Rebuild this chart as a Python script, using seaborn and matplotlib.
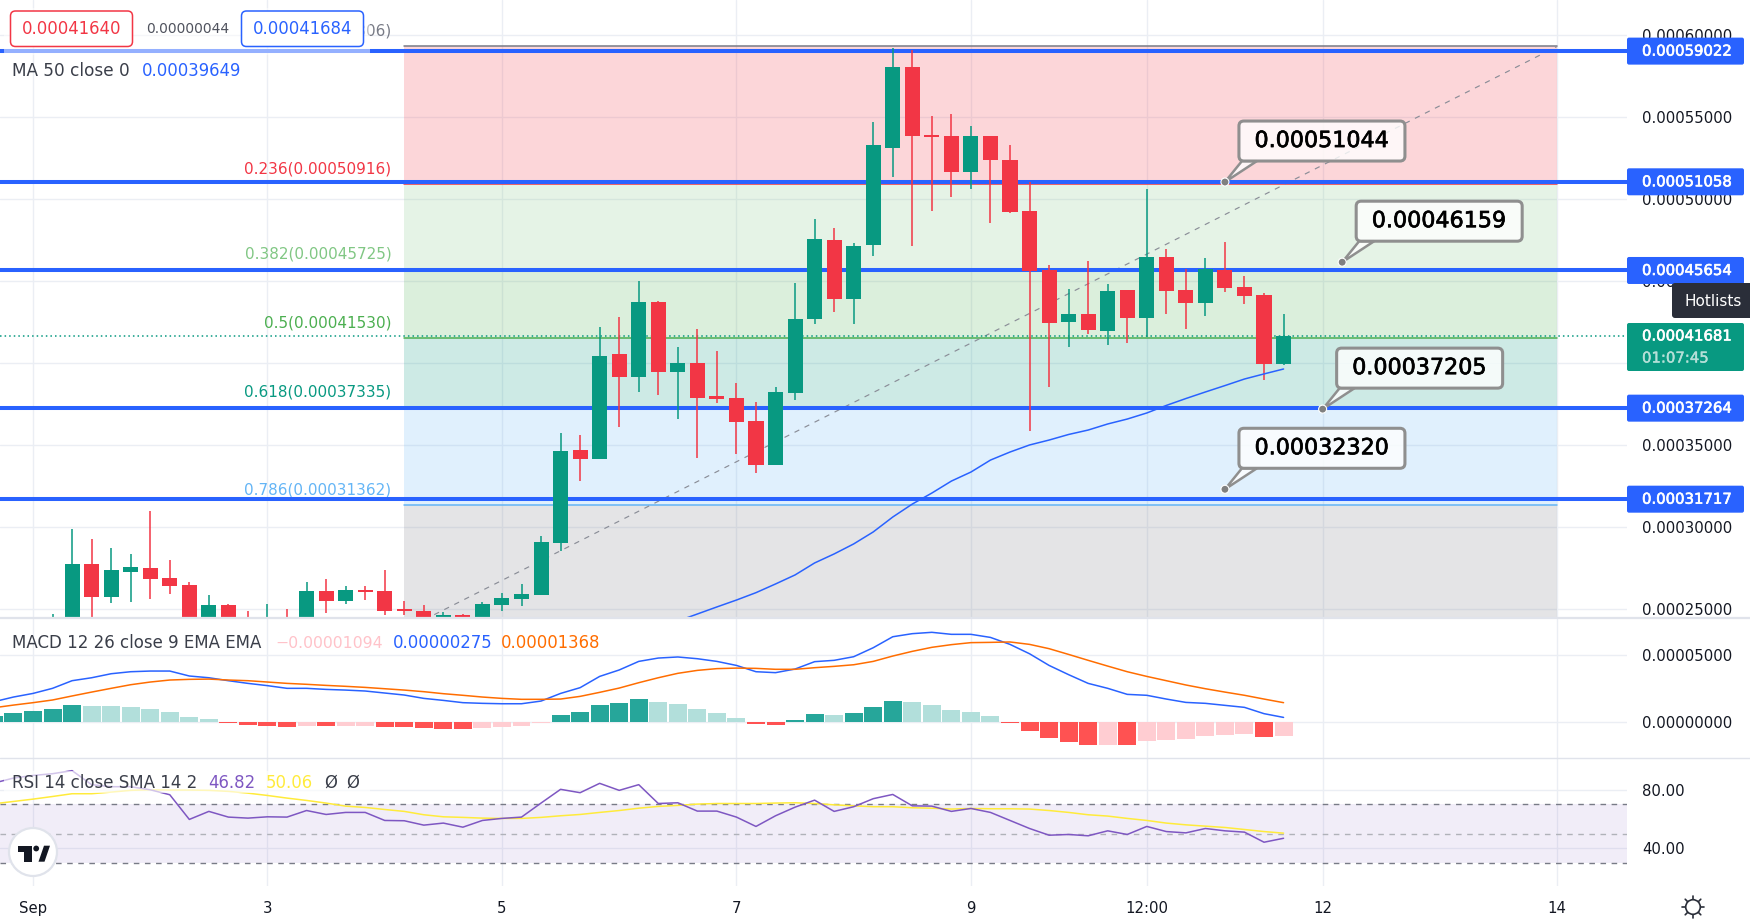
import numpy as np
import matplotlib
matplotlib.use('Agg')
import matplotlib.pyplot as plt
import matplotlib.transforms as mtrans
import matplotlib.patheffects as pe
from matplotlib.patches import FancyBboxPatch, Polygon, Circle, Rectangle
from matplotlib.lines import Line2D
import seaborn as sns

# candles, one every 4h, prices in units of 1e-5
candle_open = [23.5, 24.0, 27.77, 25.77, 27.28, 27.52, 26.91, 26.49, 23.6, 25.27, 24.3, 24.0, 24.5, 24.0, 26.12, 25.51,
               26.18, 26.12, 25.02, 24.90, 24.3, 24.66, 24.4, 25.27, 25.63, 25.88, 29.05, 34.71, 34.17, 40.56, 39.16,
               43.73, 39.47, 40.01, 38.0, 37.88, 36.48, 33.80, 38.19, 42.70, 47.51, 43.92, 47.21, 53.12, 58.05, 53.85,
               53.85, 51.66, 53.85, 52.39, 49.28, 45.68, 42.51, 43.00, 41.97, 44.46, 42.76, 46.48, 44.46, 43.67, 45.68,
               44.65, 44.16, 39.96]
candle_high = [24.72, 29.90, 29.29, 28.74, 28.38, 31.00, 28.01, 26.67, 25.88, 25.33, 24.90, 25.33, 25.02, 26.67, 26.85,
               26.43, 26.43, 27.40, 25.51, 25.27, 24.84, 24.72, 25.45, 26.00, 26.55, 29.47, 35.75, 35.63, 42.21, 42.82,
               45.01, 43.79, 40.99, 42.09, 40.75, 38.80, 37.64, 38.55, 44.89, 48.79, 48.24, 47.33, 54.70, 59.21, 59.09,
               55.07, 55.19, 54.46, 53.85, 53.30, 51.05, 45.99, 44.53, 46.23, 44.83, 44.46, 50.62, 46.96, 45.74, 46.41,
               47.39, 45.32, 44.28, 43.00]
candle_low = [23.3, 23.6, 24.3, 25.41, 25.45, 25.63, 25.94, 23.8, 23.4, 23.6, 23.6, 23.8, 23.8, 23.8, 24.78, 25.33,
              25.57, 24.66, 24.66, 24.1, 24.1, 24.1, 24.2, 24.90, 25.21, 25.88, 28.56, 32.82, 34.17, 36.12, 38.25,
              38.07, 36.60, 34.23, 37.58, 34.47, 33.31, 33.80, 37.76, 42.39, 43.12, 42.39, 46.54, 51.35, 47.15, 49.28,
              50.13, 50.62, 48.55, 49.16, 35.87, 38.55, 40.99, 41.78, 41.11, 41.23, 41.60, 43.00, 42.09, 42.88, 44.34,
              43.61, 38.98, 39.89]
candle_close = [24.2, 27.77, 25.77, 27.40, 27.58, 26.85, 26.43, 24.0, 25.27, 23.8, 23.9, 24.4, 24.0, 26.12, 25.51, 26.18,
                26.06, 24.90, 24.90, 24.3, 24.66, 24.3, 25.33, 25.69, 25.94, 29.11, 34.65, 34.17, 40.44, 39.16, 43.73,
                39.47, 40.01, 37.88, 37.82, 36.42, 33.80, 38.25, 42.70, 47.57, 43.92, 47.15, 53.30, 58.05, 53.85, 53.79,
                51.66, 53.85, 52.39, 49.22, 45.62, 42.45, 43.00, 42.03, 44.40, 42.76, 46.48, 44.40, 43.67, 45.74, 44.59,
                44.10, 39.96, 41.68]

ma50 = [24.29, 24.72, 25.15, 25.57, 26.02, 26.55, 27.10, 27.83, 28.38, 28.99, 29.72, 30.63, 31.42, 32.09, 32.82, 33.37,
        34.10, 34.59, 35.02, 35.32, 35.66, 35.93, 36.30, 36.60, 36.97, 37.43, 37.85, 38.25, 38.64, 39.04, 39.35, 39.65]

# MACD pane, starts two candles before the first day
macd_hist = [0.40, 0.62, 0.77, 0.92, 1.22, 1.14, 1.14, 1.07, 0.92, 0.70, 0.32, 0.17, -0.12, -0.27, -0.35, -0.42, -0.35,
             -0.35, -0.35, -0.35, -0.42, -0.42, -0.50, -0.57, -0.57, -0.50, -0.42, -0.35, -0.12, 0.47, 0.70, 1.22, 1.37,
             1.67, 1.44, 1.29, 0.92, 0.62, 0.25, -0.20, -0.27, 0.10, 0.55, 0.47, 0.62, 1.07, 1.52, 1.44, 1.22, 0.85,
             0.70, 0.40, -0.12, -0.72, -1.24, -1.54, -1.77, -1.77, -1.77, -1.47, -1.39, -1.32, -1.09, -1.02, -0.95,
             -1.17, -1.09]
hist_kind = list("ggggglllllllrrrrprpprrrrrppppggggglllllrrgglggglllllrrrrrprppppppr" + "p")
macd_line = [1.49, 1.84, 2.11, 2.49, 3.06, 3.28, 3.58, 3.73, 3.78, 3.78, 3.41, 3.28, 3.06, 2.86, 2.69, 2.49, 2.49, 2.41,
             2.36, 2.29, 2.14, 1.99, 1.74, 1.59, 1.42, 1.37, 1.34, 1.34, 1.54, 2.11, 2.54, 3.38, 3.86, 4.50, 4.75, 4.83,
             4.70, 4.50, 4.20, 3.73, 3.66, 3.93, 4.48, 4.58, 4.85, 5.52, 6.34, 6.57, 6.67, 6.52, 6.52, 6.29, 5.77, 5.07,
             4.20, 3.51, 2.86, 2.49, 2.04, 1.97, 1.69, 1.44, 1.37, 1.22, 1.07, 0.60, 0.32]
signal_line = [1.04, 1.24, 1.42, 1.62, 1.92, 2.21, 2.49, 2.76, 2.96, 3.11, 3.16, 3.18, 3.11, 3.06, 2.96, 2.86, 2.79, 2.71,
               2.64, 2.56, 2.46, 2.36, 2.24, 2.09, 1.97, 1.84, 1.74, 1.67, 1.67, 1.69, 1.89, 2.19, 2.51, 2.91, 3.28, 3.61,
               3.83, 3.96, 4.00, 3.98, 3.91, 3.91, 4.03, 4.13, 4.25, 4.50, 4.90, 5.25, 5.55, 5.75, 5.90, 5.92, 5.95, 5.77,
               5.45, 5.02, 4.58, 4.15, 3.73, 3.38, 3.06, 2.74, 2.46, 2.21, 1.97, 1.69, 1.42]

rsi_line = [84.6, 88.0, 89.8, 91.0, 93.1, 83.5, 82.1, 82.1, 80.0, 76.6, 59.7, 65.2, 61.3, 60.6, 61.5, 61.3, 65.8, 63.1,
            64.5, 64.5, 59.0, 58.8, 55.8, 57.2, 54.4, 59.0, 60.4, 61.3, 70.9, 80.3, 78.0, 84.4, 79.6, 83.5, 70.6, 71.1,
            65.4, 65.4, 61.3, 54.9, 62.2, 68.1, 72.9, 65.2, 68.4, 73.9, 76.8, 69.0, 68.8, 65.2, 67.2, 64.5, 59.0, 53.5,
            48.9, 49.4, 48.5, 51.9, 49.4, 54.9, 51.4, 50.5, 53.5, 51.9, 51.0, 44.1, 46.8]
rsi_ma = [70.4, 72.0, 73.6, 75.4, 77.3, 77.3, 78.4, 79.6, 80.0, 79.8, 79.8, 79.6, 78.9, 77.7, 76.1, 74.3, 72.7, 70.9,
          68.8, 67.9, 66.5, 65.2, 62.9, 61.5, 61.1, 60.6, 60.4, 60.4, 61.1, 62.2, 63.1, 64.5, 65.8, 67.4, 68.6, 69.3,
          70.2, 70.6, 70.6, 70.6, 70.9, 71.1, 70.6, 69.7, 69.0, 68.4, 68.4, 67.7, 67.4, 66.8, 67.2, 67.0, 67.0, 66.8,
          65.8, 64.5, 62.9, 62.0, 60.4, 59.0, 57.2, 56.0, 55.1, 54.2, 52.8, 51.4, 50.3]

fib_ratio = ['0', '0.236', '0.382', '0.5', '0.618', '0.786', '1']
fib_price = [59.306, 50.916, 45.725, 41.530, 37.335, 31.362, 23.754]
fib_color = ['#787B86', '#F23645', '#81C784', '#4CAF50', '#089981', '#64B5F6', '#787B86']
fib_text = ['0.00059306', '0.00050916', '0.00045725', '0.00041530', '0.00037335', '0.00031362', '0.00023754']
hline_price = [59.022, 51.058, 45.654, 37.264, 31.717]
hline_text = ['0.00059022', '0.00051058', '0.00045654', '0.00037264', '0.00031717']
callout_k = [61, 67, 66, 61]
callout_price = [51.044, 46.159, 37.205, 32.320]
callout_text = ['0.00051044', '0.00046159', '0.00037205', '0.00032320']
price_ticks = [25, 30, 35, 40, 45, 50, 55, 60]
price_tick_text = ['0.00025000', '0.00030000', '0.00035000', '0.00040000', '0.00045000', '0.00050000', '0.00055000', '0.00060000']
time_ticks = [0, 12, 24, 36, 48, 57, 66, 78]
time_tick_text = ['Sep', '3', '5', '7', '9', '12:00', '12', '14']

BLUE = '#2962FF'
GREEN = '#089981'
RED = '#F23645'
GRID = '#EBEEF4'
TEXT = '#131722'
W, H = 1750, 924

sns.set_theme(style='white')
plt.rcParams['font.family'] = ['DejaVu Sans']
plt.rcParams['axes.linewidth'] = 0


def P(x, y):
    # pixel measured from the top left of the picture
    return (x, H - y)


PX = mtrans.IdentityTransform()
fig = plt.figure(figsize=(W / 100, H / 100), dpi=100, facecolor='white')


def pane(top, bottom):
    ax = fig.add_axes([0, 1 - bottom / H, 1627 / W, (bottom - top) / H])
    ax.set_xlim(-33 / 19.54, (1627 - 33) / 19.54)
    ax.set_xticks(time_ticks)
    ax.set_xticklabels([])
    ax.yaxis.tick_right()
    ax.tick_params(axis='both', length=0, labelsize=10.7, pad=10.8, colors=TEXT)
    ax.grid(True, color=GRID, lw=1)
    ax.set_axisbelow(True)
    return ax


ax1 = pane(0, 617)
ax2 = pane(618, 758)
ax3 = pane(758, 886)

# main pane
ax1.set_ylim(62.137 - 0.06094 * 617, 62.137)
ax1.set_yticks(price_ticks)
ax1.set_yticklabels(price_tick_text)

for i in range(6):
    ax1.fill_between([19, 78], fib_price[i + 1], fib_price[i], color=fib_color[i + 1 if i > 0 else 1], alpha=0.2, lw=0, zorder=1)
for p, c, r, t in zip(fib_price, fib_color, fib_ratio, fib_text):
    ax1.plot([19, 78], [p, p], color=c, lw=1.1, zorder=2)
    ax1.annotate(f'{r}({t})', xy=(18.35, p), xytext=(0, 15), textcoords='offset pixels', ha='right', va='center',
                 fontsize=11, color=c, zorder=2.2)

ax1.plot([19, 78], [fib_price[6], fib_price[0]], color='#8A8D97', lw=0.85, dashes=(4.5, 5), zorder=2.5)
ax1.axhline(41.66, color=GREEN, lw=1.1, ls=(0, (1, 2)), zorder=2.6)
for p in hline_price:
    ax1.axhline(p, color=BLUE, lw=2.9, zorder=3)

k = np.arange(1, 65)
o, h, l, c = map(np.array, (candle_open, candle_high, candle_low, candle_close))
colors = [GREEN if b >= a else RED for a, b in zip(o, c)]
ax1.vlines(k, l, h, colors=colors, lw=1.1, zorder=4)
ax1.bar(k, np.maximum(np.abs(c - o), 0.12), bottom=np.minimum(o, c), width=0.77, color=colors, lw=0, zorder=4.1)
sns.lineplot(x=np.arange(33, 65), y=ma50, ax=ax1, color=BLUE, lw=1.1, zorder=5, legend=False, errorbar=None)
ax1.set_xlabel('')
ax1.set_ylabel('')

# macd pane
k2 = np.arange(-2, 65)
ax2.set_ylim((721.7 - 758) / 13.4, (721.7 - 618) / 13.4)
sns.barplot(x=k2, y=macd_hist, hue=hist_kind, hue_order=['g', 'l', 'r', 'p'], native_scale=True, dodge=False,
            palette={'g': '#26A69A', 'l': '#B2DFDB', 'r': '#FF5252', 'p': '#FFCDD2'}, width=0.92, saturation=1,
            legend=False, ax=ax2, zorder=2, lw=0)
sns.lineplot(x=k2, y=macd_line, ax=ax2, color=BLUE, lw=1.1, zorder=3, legend=False, errorbar=None)
sns.lineplot(x=k2, y=signal_line, ax=ax2, color='#FF6D00', lw=1.1, zorder=3, legend=False, errorbar=None)
ax2.set_xlim(-33 / 19.54, (1627 - 33) / 19.54)
ax2.set_xticks(time_ticks)
ax2.set_xticklabels([])
ax2.set_yticks([0, 5])
ax2.set_yticklabels(['0.00000000', '0.00005000'])
ax2.set_xlabel('')
ax2.set_ylabel('')

# rsi pane
ax3.set_ylim(40 + (848.3 - 886) / 1.4575, 40 + (848.3 - 758.3) / 1.4575)
ax3.axhspan(30, 70, color='#7E57C2', alpha=0.1, lw=0, zorder=1)
ax3.axhline(70, color='#787B86', lw=1, dashes=(4, 4), zorder=2)
ax3.axhline(50, color='#B0B2B9', lw=1, dashes=(4, 4), zorder=2)
ax3.axhline(30, color='#787B86', lw=1, dashes=(4, 4), zorder=2)
sns.lineplot(x=k2, y=rsi_ma, ax=ax3, color='#FFEB3B', lw=1.1, zorder=3, legend=False, errorbar=None)
sns.lineplot(x=k2, y=rsi_line, ax=ax3, color='#7E57C2', lw=1.1, zorder=3.1, legend=False, errorbar=None)
ax3.set_yticks([40, 80])
ax3.set_yticklabels(['40.00', '80.00'])
ax3.set_xticklabels(time_tick_text)
ax3.tick_params(axis='x', pad=11, labelsize=10.7)
ax3.set_xlabel('')
ax3.set_ylabel('')

fig.canvas.draw()


def price_px(p):
    return H - ax1.transData.transform((0, p))[1]


def add(patch):
    patch.set_transform(PX)
    fig.add_artist(patch)
    return patch


def txt(x, y, s, color=TEXT, size=11.9, ha='left', fat=0, **kw):
    t = fig.text(*P(x, y), s, transform=PX, color=color, fontsize=size, ha=ha, va='center', **kw)
    if fat:
        t.set_path_effects([pe.withStroke(linewidth=fat, foreground=color)])


def box(x0, y0, x1, y1, fc, ec='none', lw=0, r=2, z=3):
    add(FancyBboxPatch(P(x0, y1), x1 - x0, y1 - y0, boxstyle=f'round,pad=0,rounding_size={r}', fc=fc, ec=ec, lw=lw, zorder=z))


# callouts on the levels
for ck, cp, ct in zip(callout_k, callout_price, callout_text):
    ax_x, ax_y = ax1.transData.transform((ck, cp))
    ax_y = H - ax_y
    add(Polygon([P(ax_x + 17, ax_y - 21), P(ax_x, ax_y), P(ax_x + 32, ax_y - 21)], fc=(1, 1, 1, 0.8), ec='#8F8F8F', lw=1.8, zorder=3))
    box(ax_x + 14, ax_y - 61, ax_x + 180, ax_y - 21, fc=(1, 1, 1, 0.8), ec='#8F8F8F', lw=2.2, r=5, z=3.1)
    txt(ax_x + 97, ax_y - 41, ct, color='black', size=16, ha='center', fat=0.5, zorder=3.2)
    add(Circle(P(ax_x, ax_y), 4, fc='#808080', ec='white', lw=0.8, zorder=3.3))

# price tags on the right axis
for p, t in zip(hline_price, hline_text):
    y = price_px(p)
    box(1627, y - 13.5, 1744, y + 13.5, fc=BLUE, z=4)
    txt(1642, y, t, color='white', size=10.7, fat=0.45, zorder=4.1)
box(1627, 323, 1744, 371, fc=GREEN, z=4)
txt(1642, 336, '0.00041681', color='white', size=10.7, fat=0.45, zorder=4.1)
txt(1642, 358, '01:07:45', color='#B5E0D8', size=10.7, fat=0.3, zorder=4.1)
box(1672, 283, 1754, 318, fc='#2A2E39', r=3, z=4.2)
txt(1684, 301, 'Hotlists', color='white', size=11, zorder=4.3)

# dividers between the panes
fig.add_artist(Line2D([0, W], [H - 617.7, H - 617.7], transform=PX, color='#E0E3EB', lw=1.6, zorder=2.5))
fig.add_artist(Line2D([0, W], [H - 758.3, H - 758.3], transform=PX, color='#E0E3EB', lw=1, zorder=2.5))

# legends
add(Rectangle(P(4, 55), 366, 47, fc='white', ec='none', alpha=0.5, zorder=2.8))
box(10.5, 11, 132.5, 46.5, fc='white', ec=RED, lw=1.1, r=5, z=3)
txt(71.5, 29, '0.00041640', color=RED, ha='center', zorder=3.1)
txt(146, 29, '0.00000044', color='#50535E', size=10, zorder=3.1)
box(241.5, 11, 363.5, 46.5, fc='white', ec=BLUE, lw=1.1, r=5, z=3)
txt(302.5, 29, '0.00041684', color=BLUE, ha='center', zorder=3.1)
txt(11.5, 71, 'MA 50 close 0', color='#3A3E49', size=12.2)
txt(142, 71, '0.00039649', color=BLUE)

txt(11.5, 643, 'MACD 12 26 close 9 EMA EMA', color='#3A3E49', size=12)
txt(275.5, 643, '\u22120.00001094', color='#FFC2C9', size=11.3)
txt(393, 643, '0.00000275', color=BLUE)
txt(501, 643, '0.00001368', color='#FF6D00')

add(Rectangle(P(4, 793), 366, 22, fc='white', ec='none', alpha=0.65, zorder=2.8))
txt(11.5, 783, 'RSI 14 close SMA 14 2', color='#3A3E49', size=12)
txt(208.5, 783, '46.82', color='#7E57C2')
txt(266, 783, '50.06', color='#FFEB3B')
txt(324, 783, '\u00d8', color='#3A3E49')
txt(346, 783, '\u00d8', color='#3A3E49')

# logo and settings icon
add(Circle(P(33, 852), 24, fc='white', ec='#E0E3EB', lw=1.6, zorder=3))
add(Polygon([P(17.5, 845.7), P(32.4, 845.7), P(32.4, 861.7), P(24, 861.7), P(24, 851.7), P(17.5, 851.7)], fc='#131722', ec='none', zorder=3.1))
add(Polygon([P(44, 845.7), P(50, 845.7), P(44.5, 861.7), P(38.5, 861.7)], fc='#131722', ec='none', zorder=3.1))
add(Circle(P(36.2, 848.5), 2.9, fc='#131722', ec='none', zorder=3.1))
add(Circle(P(1693, 907), 7.3, fc='white', ec='#2A2E39', lw=1.2, zorder=3))
for a in np.deg2rad(np.arange(0, 360, 45)):
    fig.add_artist(Line2D([1693 + 8 * np.cos(a), 1693 + 11 * np.cos(a)], [H - 907 + 8 * np.sin(a), H - 907 + 11 * np.sin(a)],
                          transform=PX, color='#2A2E39', lw=1.2, zorder=3))

plt.savefig('out.png', dpi=100)
